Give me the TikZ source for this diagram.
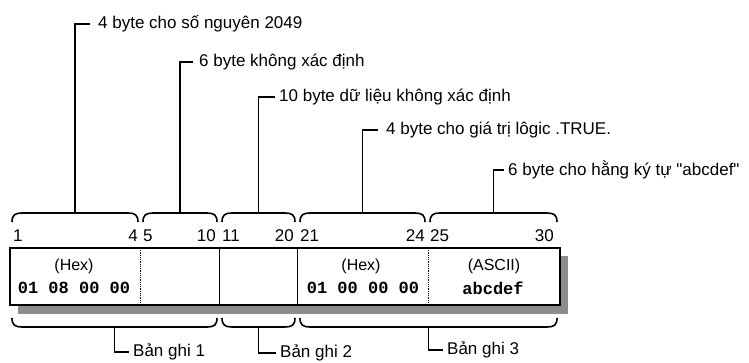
\documentclass[tikz,border=0pt]{standalone}
\usepackage{fontspec}
\setmainfont{Liberation Sans}[Ligatures=TeXOff]
\setmonofont{Liberation Mono}
\usetikzlibrary{positioning}

\begin{document}
\begin{tikzpicture}[x=1pt,y=-1pt,
    lbl/.style={anchor=west,inner sep=0pt,font=\fontsize{17}{19}\selectfont},
    num/.style={inner sep=0pt,font=\fontsize{17}{19}\selectfont},
    hdr/.style={inner sep=0pt,font=\fontsize{16}{18}\selectfont},
    val/.style={inner sep=0pt,font=\fontsize{17}{19}\selectfont\ttfamily\bfseries},
    brc/.style={line width=1.6pt},
    stem/.style={line width=1.6pt}]
    \useasboundingbox (0,0) rectangle (749,362);

    % record box with shadow
    \fill[black!45] (18,256) rectangle (568,314);
    \draw[fill=white,line width=1.2pt] (10,248) rectangle (560,305);
    \draw[densely dotted,line width=0.8pt] (140,248) -- (140,305);
    \draw[line width=1pt] (219,248) -- (219,305);
    \draw[line width=1pt] (297,248) -- (297,305);
    \draw[densely dotted,line width=0.8pt] (428,248) -- (428,305);

    % field braces
    \foreach \a/\b/\n in {12/138/t1, 143/217/t2, 222/295/t3, 300/425/t4, 430/557/t5} {
      \draw[brc] (\a,222) .. controls (\a,215) and (\a+3,213) .. (\a+10,213)
        -- (\b-10,213) .. controls (\b-3,213) and (\b,215) .. (\b,222);
      \coordinate (\n) at ({(\a+\b)/2},213);
    }

    % record braces
    \foreach \a/\b/\n in {12/217/b1, 222/295/b2, 300/557/b3} {
      \draw[brc] (\a,318) .. controls (\a,325) and (\a+3,327) .. (\a+10,327)
        -- (\b-10,327) .. controls (\b-3,327) and (\b,325) .. (\b,318);
      \coordinate (\n) at ({(\a+\b)/2},327);
    }

    % byte positions
    \node[num,anchor=west] (p1) at (13,236) {1};
    \node[num,anchor=east] (p4) at (138,236) {4};
    \node[num,anchor=west] (p5) at (143,236) {5};
    \node[num,anchor=east] (p10) at (216,236) {10};
    \node[num,anchor=west] (p11) at (222,236) {11};
    \node[num,anchor=east] (p20) at (294,236) {20};
    \node[num,anchor=west] (p21) at (300,236) {21};
    \node[num,anchor=east] (p24) at (425,236) {24};
    \node[num,anchor=west] (p25) at (430,236) {25};
    \node[num,anchor=east] (p30) at (554,236) {30};

    % cell contents
    \node[hdr] (hex1) at (74,266) {(Hex)};
    \node[val] (val1) at (74,288) {01 08 00 00};
    \node[hdr] (hex2) at (361,266) {(Hex)};
    \node[val] (val2) at (363,288) {01 00 00 00};
    \node[hdr] (asc) at (494,266) {(ASCII)};
    \node[val] (val3) at (493,288) {abcdef};

    % field labels
    \node[lbl] (l1) at (98,24) {4 byte cho số nguyên 2049};
    \node[lbl] (l2) at (199,62) {6 byte không xác định};
    \node[lbl] (l3) at (279,97) {10 byte dữ liệu không xác định};
    \node[lbl] (l4) at (386,130) {4 byte cho giá trị lôgic .TRUE.};
    \node[lbl] (l5) at (508,170) {6 byte cho hằng ký tự "abcdef"};
    \draw[stem] (t1) |- ([xshift=-8pt]l1.west);
    \draw[stem] (t2) |- ([xshift=-6pt]l2.west);
    \draw[stem] (t3) |- ([xshift=-4pt]l3.west);
    \draw[stem] (t4) |- ([xshift=-8pt]l4.west);
    \draw[stem] (t5) |- ([xshift=-4pt]l5.west);

    % record labels
    \node[lbl] (r1) at (133,352) {Bản ghi 1};
    \node[lbl] (r2) at (280,353) {Bản ghi 2};
    \node[lbl] (r3) at (447,350) {Bản ghi 3};
    \draw[stem] (b1) |- ([xshift=-4pt]r1.west);
    \draw[stem] (b2) |- ([xshift=-4pt]r2.west);
    \draw[stem] (b3) |- ([xshift=-4pt]r3.west);
\end{tikzpicture}
\end{document}
